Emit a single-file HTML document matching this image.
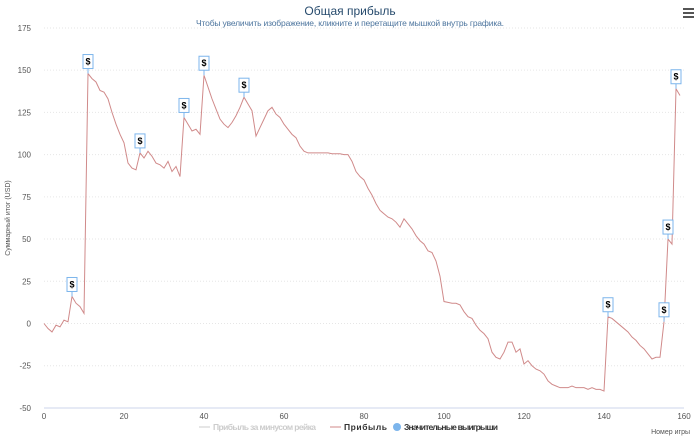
<!DOCTYPE html>
<html><head><meta charset="utf-8">
<style>
html,body{margin:0;padding:0;background:#fff;}
body{width:700px;height:439px;overflow:hidden;font-family:"Liberation Sans",sans-serif;}
svg text{font-family:"Liberation Sans",sans-serif;}
</style></head>
<body>
<svg id="chart" width="700" height="439" xmlns="http://www.w3.org/2000/svg">
<text x="350" y="15" text-anchor="middle" font-size="12" fill="#274b6d">Общая прибыль</text>
<text x="350" y="26" text-anchor="middle" font-size="8.5" fill="#4d759e" textLength="308">Чтобы увеличить изображение, кликните и перетащите мышкой внутрь графика.</text>
<g>
<rect x="683" y="8" width="11" height="2" fill="#555"/><rect x="683" y="12" width="11" height="2" fill="#555"/><rect x="683" y="16" width="11" height="2" fill="#555"/>
</g>
<text transform="translate(10,218) rotate(-90)" text-anchor="middle" font-size="7" fill="#555">Суммарный итог (USD)</text>
<text x="690" y="434" text-anchor="end" font-size="7" fill="#555">Номер игры</text>
<g id="grid"></g><g id="yticks"></g><g id="xticks"></g>
<path id="line" fill="none" stroke="#d08a8a" stroke-width="1"/>
<g id="flags"></g>
<g>
<g><line x1="199" y1="427" x2="210" y2="427" stroke="#ccc"/><text x="213" y="430" font-size="8.5" font-weight="bold" fill="#ccc" textLength="103">Прибыль за минусом рейка</text></g>
<g><line x1="330" y1="427" x2="341" y2="427" stroke="#d08a8a"/><text x="344" y="430" font-size="8.5" font-weight="bold" fill="#333" textLength="43">Прибыль</text></g>
<g><circle cx="397" cy="427" r="4" fill="#7cb5ec"/><text x="404" y="430" font-size="8.5" font-weight="bold" fill="#333" textLength="94">Значительные выигрыши</text></g>
</g>
</svg>
<script>
const profit=[0,-3,-5,-1,-2,2,1,16,12,10,6,148,145,143,138,137,133,125,118,112,107,95,92,91,101,98,102,99,95,94,92,96,90,93,87,122,118,114,115,112,147,140,133,127,121,118,116,119,123,128,134,130,126,111,116,121,126,128,124,122,118,115,112,110,105,102,101,101,101,101,101,101,100.5,100.5,100.5,100,100,96,90,87,85,80,76,71,67,65,63,62,60,57,62,59,56,52,49,47,43,42,37,28,13,12.5,12,12,11,7,4,3,-1,-4,-6,-9,-17,-20,-21,-17,-11,-11,-17,-15,-24,-22,-25,-27,-28,-30,-34,-36,-37,-38,-38,-38,-37,-38,-38,-38,-39,-38,-39,-39,-40,4,3,1,-1,-3,-5,-8,-10,-13,-15,-18,-21,-20,-20,1,50,47,139,135];
const bigWins=[7,11,24,35,40,50,141,155,156,158];
const yTicks=[-50,-25,0,25,50,75,100,125,150,175];
const xTicks=[0,20,40,60,80,100,120,140,160];
const NS="http://www.w3.org/2000/svg";
const X=g=>44+g*4;
const Y=v=>323.5-v*(380/225);
const svg=document.getElementById('chart');
const grid=document.getElementById('grid'),yt=document.getElementById('yticks'),xt=document.getElementById('xticks');
yTicks.forEach(v=>{
 const l=document.createElementNS(NS,'line');
 
 
 l.setAttribute('x1',44);l.setAttribute('x2',684);l.setAttribute('y1',Y(v));l.setAttribute('y2',Y(v));
 l.setAttribute('stroke',v===-50?'#ccd6eb':'#e6e6e6');l.setAttribute('stroke-dasharray',v===-50?'':'1,2');
 grid.appendChild(l);
 const t=document.createElementNS(NS,'text');
 
 
 t.setAttribute('x',31);t.setAttribute('y',Y(v)+3);t.setAttribute('text-anchor','end');t.setAttribute('font-size','8');t.setAttribute('fill','#555');
 t.textContent=v;yt.appendChild(t);
});
xTicks.forEach(g=>{
 const t=document.createElementNS(NS,'text');
 
 
 t.setAttribute('x',X(g));t.setAttribute('y',419);t.setAttribute('text-anchor','middle');t.setAttribute('font-size','8');t.setAttribute('fill','#555');
 t.textContent=g;xt.appendChild(t);
});
document.getElementById('line').setAttribute('d',profit.map((v,i)=>(i?'L':'M')+X(i)+','+Y(v)).join(''));
const fl=document.getElementById('flags');
bigWins.forEach(g=>{
 const px=X(g),py=Y(profit[g]);
 const grp=document.createElementNS(NS,'g');
 
 
 const ln=document.createElementNS(NS,'line');
 ln.setAttribute('x1',px);ln.setAttribute('x2',px);ln.setAttribute('y1',py);ln.setAttribute('y2',py-5);ln.setAttribute('stroke','#7cb5ec');
 const r=document.createElementNS(NS,'rect');
 r.setAttribute('x',px-5);r.setAttribute('y',py-19);r.setAttribute('width',10);r.setAttribute('height',14);
 r.setAttribute('fill','#fff');r.setAttribute('stroke','#7cb5ec');
 const t=document.createElementNS(NS,'text');
 t.setAttribute('x',px);t.setAttribute('y',py-9);t.setAttribute('text-anchor','middle');t.setAttribute('font-size','9');t.setAttribute('font-weight','bold');t.setAttribute('fill','#000');
 t.textContent='$';
 grp.appendChild(ln);grp.appendChild(r);grp.appendChild(t);fl.appendChild(grp);
});
</script>
</body></html>
